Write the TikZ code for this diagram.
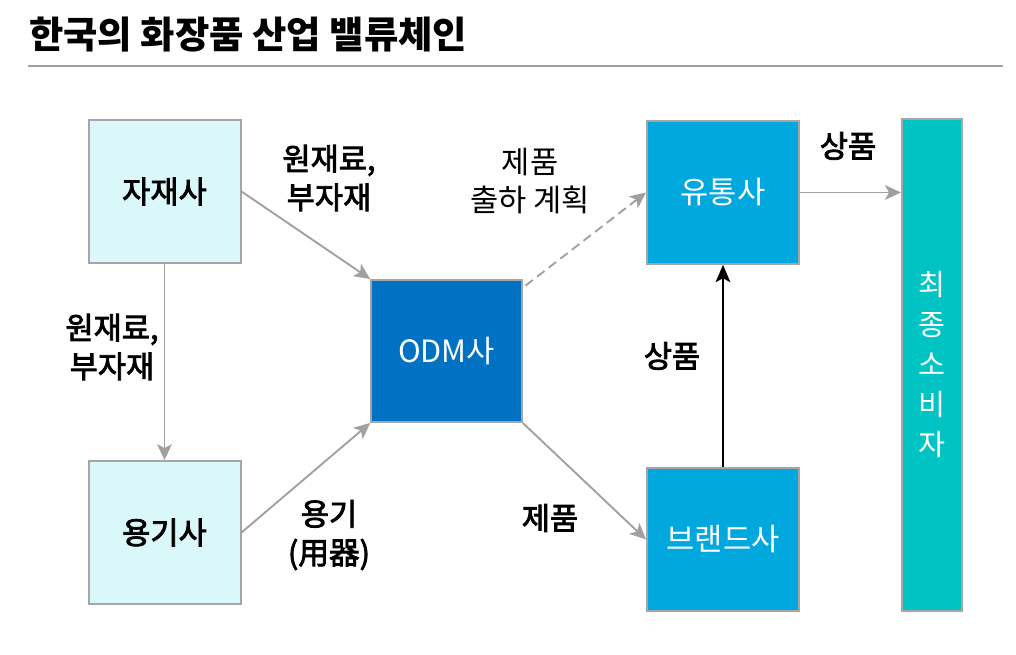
\documentclass[tikz,border=0pt]{standalone}
\usepackage{fontspec}
\setmainfont{Noto Sans CJK KR}
\newfontfamily\medfont{Noto Sans CJK KR}[FakeBold=2.6]
\usetikzlibrary{arrows.meta}
\definecolor{lightbox}{RGB}{218,247,250}
\definecolor{odmblue}{RGB}{0,114,196}
\definecolor{midblue}{RGB}{0,168,222}
\definecolor{teal}{RGB}{0,196,196}
\definecolor{edgegray}{RGB}{166,166,166}
\definecolor{arrgray}{RGB}{160,160,160}
\tikzset{
  box/.style={draw=edgegray, line width=1.5pt, inner sep=0pt, font=\fontsize{23}{29}\selectfont},
  smallbox/.style={box, minimum width=114pt, minimum height=107pt},
  flow/.style={draw=arrgray, line width=1.4pt, -{Stealth[length=12pt,width=11pt,inset=3pt]}},
  lbl/.style={align=center, font=\fontsize{23}{29}\selectfont\medfont, inner sep=0pt},
}
\begin{document}
\begin{tikzpicture}[x=0.75pt,y=-0.75pt]
\useasboundingbox (0,0) rectangle (1016,655);
% title
\node[anchor=base west, inner sep=0pt, font=\fontsize{28}{32}\selectfont\bfseries] (title) at (29,49) {한국의 화장품 산업 밸류체인};
\coordinate (r1) at (28,66);
\coordinate (r2) at (1003,66);
\draw[arrgray, line width=1.5pt] (r1) -- (r2);
% boxes
\node[smallbox, fill=lightbox, font=\fontsize{23}{29}\selectfont\medfont] (jajae) at (164.5,191.5) {자재사};
\node[smallbox, fill=lightbox, font=\fontsize{23}{29}\selectfont\medfont] (yonggi) at (164.5,532.5) {용기사};
\node[smallbox, fill=odmblue, text=white, minimum width=113pt, minimum height=106.5pt] (odm) at (446.5,351) {ODM사};
\node[smallbox, fill=midblue, text=white] (yutong) at (723,192.5) {유통사};
\node[smallbox, fill=midblue, text=white] (brand) at (723,539.5) {브랜드사};
\node[box, fill=teal, text=white, minimum width=45pt, minimum height=369pt, align=center, font=\fontsize{22}{30}\selectfont] (cons) at (932,365) {최\\종\\소\\비\\자};
% connectors
\draw[flow] (jajae.east) -- (odm.north west);
\draw[flow] (jajae.south) -- (yonggi.north);
\draw[flow] (yonggi.east) -- (odm.south west);
\draw[flow, dashed, dash pattern=on 7pt off 4pt] ([xshift=2pt,yshift=-5pt]odm.north east) -- (yutong.west);
\draw[flow] (odm.south east) -- (brand.west);
\draw[line width=1.6pt, -{Stealth[length=13pt,width=11pt,inset=3pt]}] (brand.north) -- (yutong.south);
\draw[flow] (yutong.east) -- (yutong.east -| cons.west);
% labels
\node[lbl] (l1) at (329,178) {원재료,\\부자재};
\node[lbl] (l2) at (112,347) {원재료,\\부자재};
\node[lbl, font=\fontsize{23}{29}\selectfont] (l3) at (530,181) {제품\\출하 계획};
\node[lbl] (l4) at (848,146) {상품};
\node[lbl] (l5) at (672,356) {상품};
\node[lbl] (l6) at (550,518) {제품};
\node[lbl] (l7) at (329,535) {용기\\(用器)};
\end{tikzpicture}
\end{document}
